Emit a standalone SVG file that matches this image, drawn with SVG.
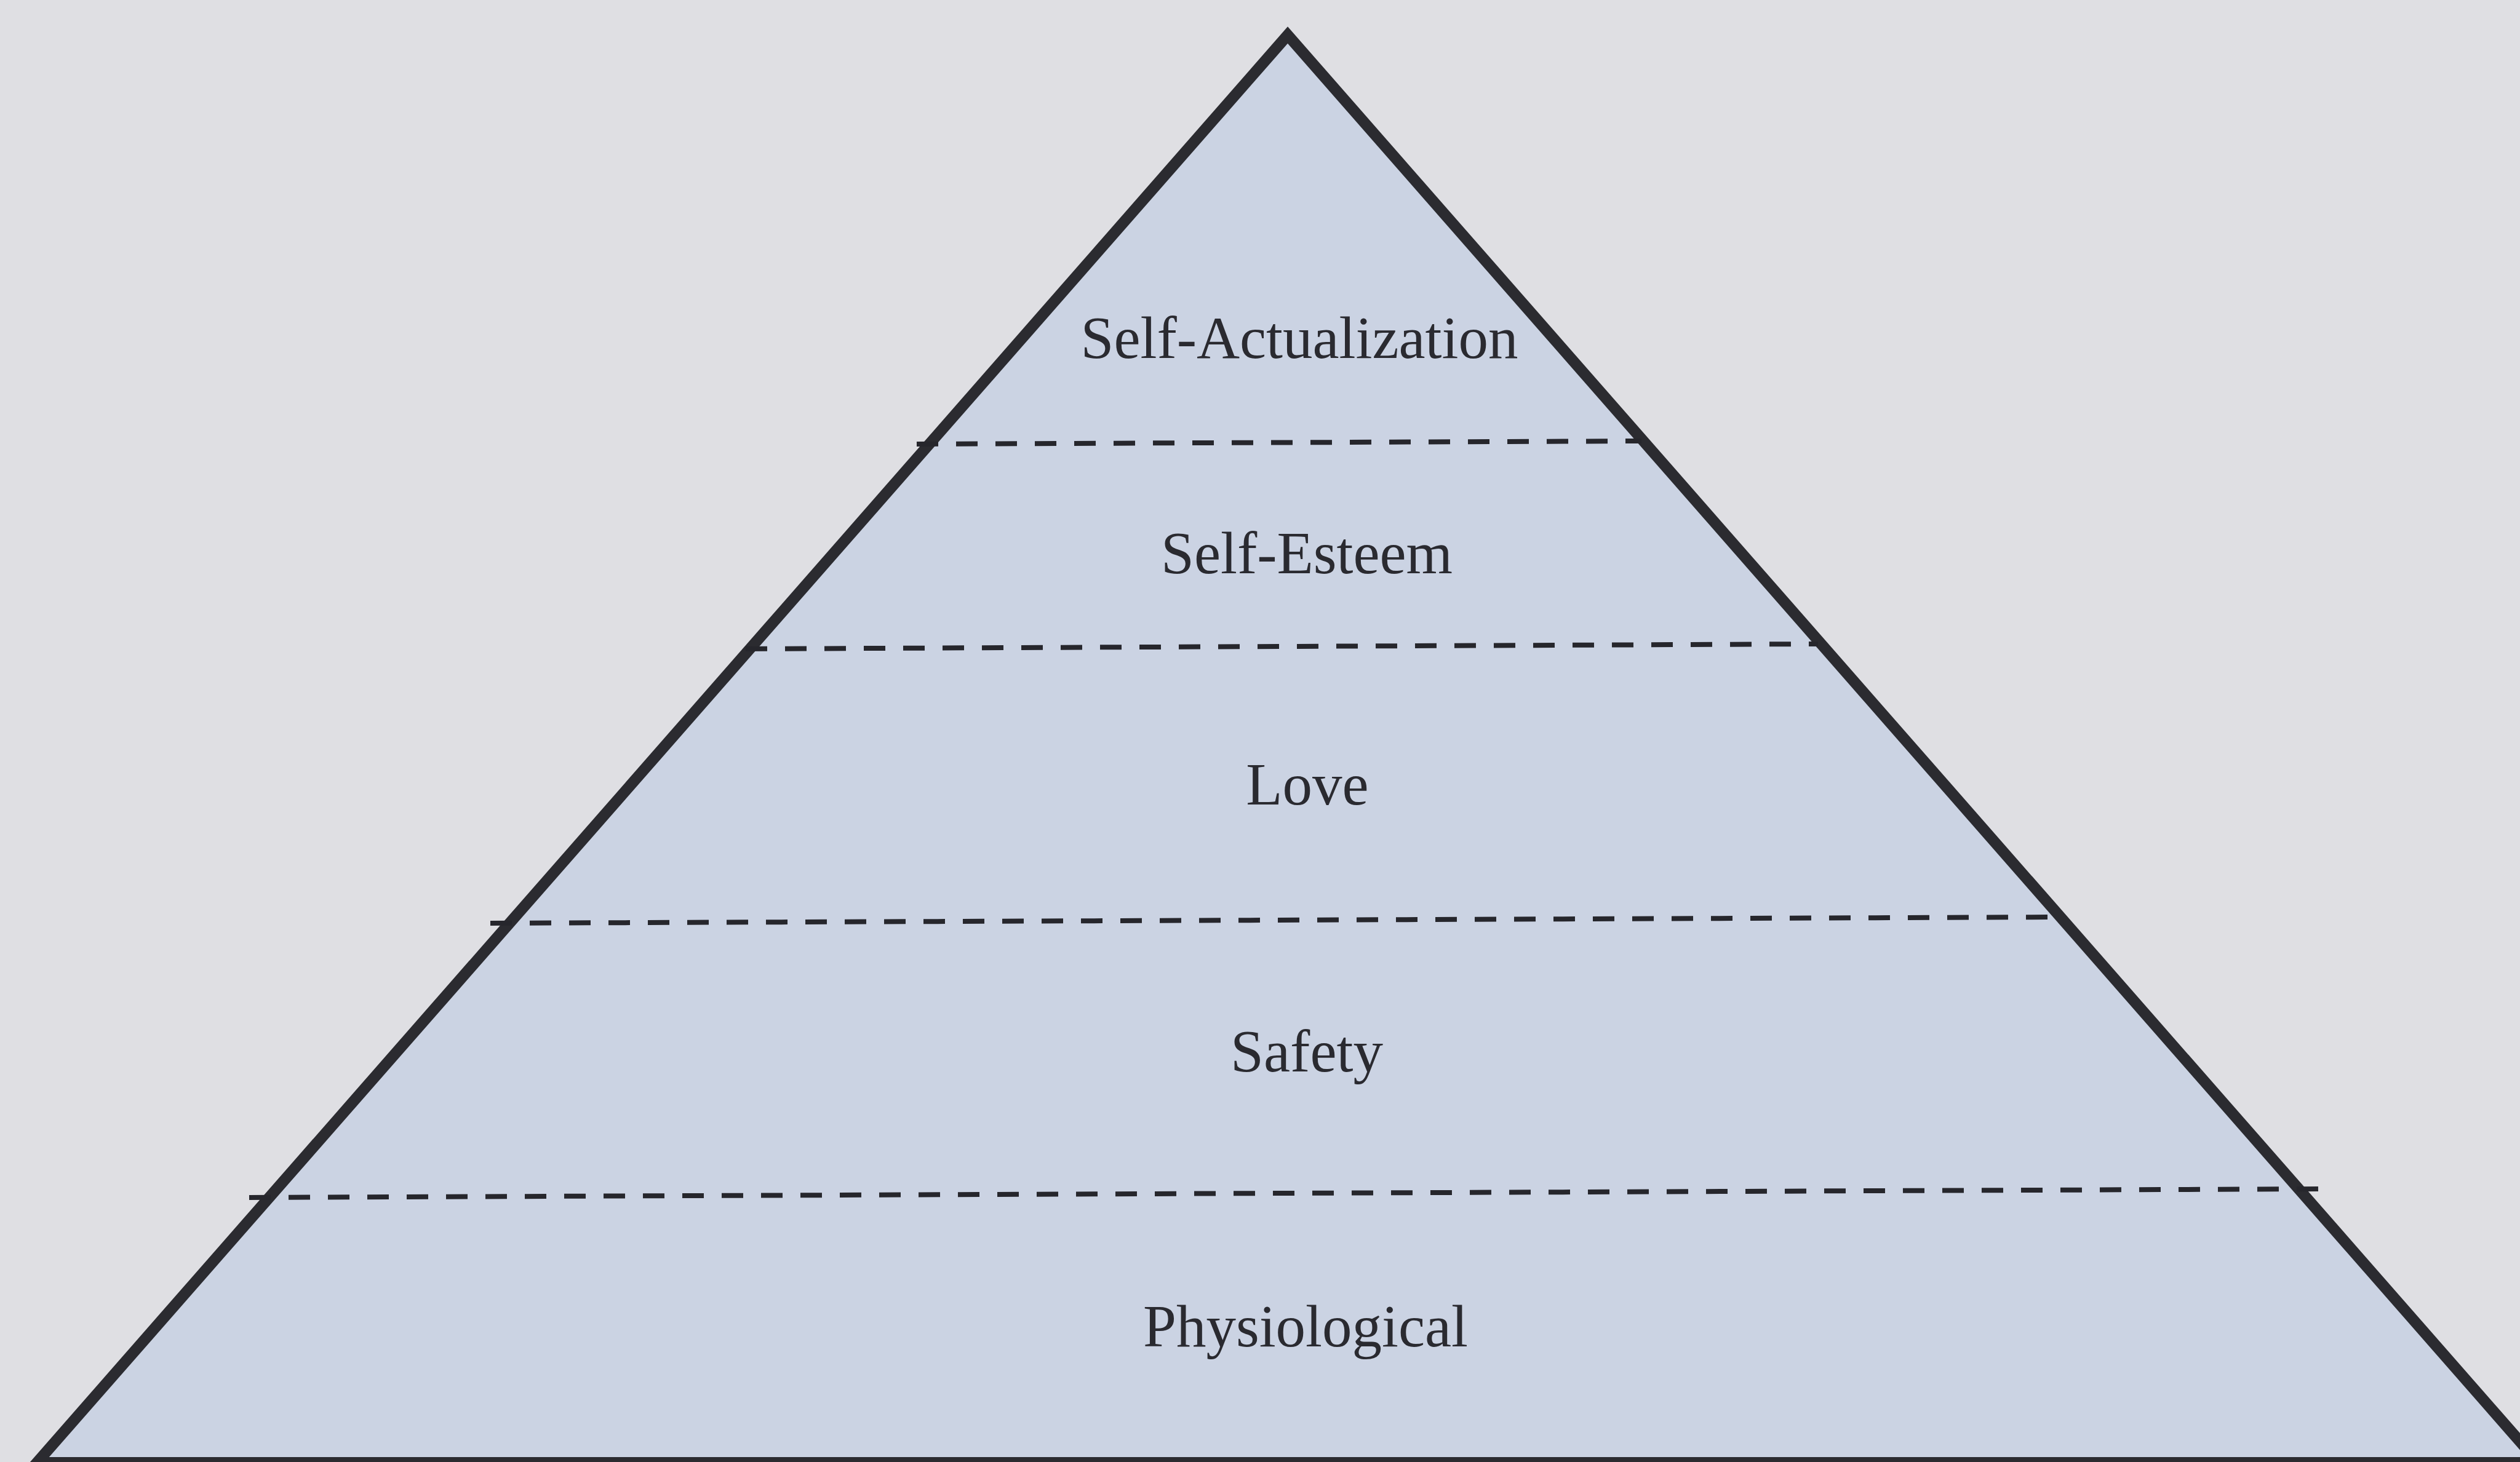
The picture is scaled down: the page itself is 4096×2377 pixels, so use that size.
<svg xmlns="http://www.w3.org/2000/svg" width="4096" height="2377" viewBox="0 0 4096 2377">
<style>
.lbl{font-family:"Liberation Serif","Times New Roman",serif;font-size:97px;fill:#2a2a30;text-anchor:middle}
.dash{stroke:#26262c;stroke-width:8;stroke-dasharray:35 29;fill:none}
</style>
<rect x="0" y="0" width="4096" height="2377" fill="#dfdfe3"/>
<g id="pyramid">
<polygon points="2093,57 60,2378 4126,2378" fill="#cbd3e3" stroke="#2b2b30" stroke-width="18" stroke-linejoin="miter"/>
</g>
<g id="connectors">
<line class="dash" x1="1490" y1="722" x2="2668" y2="717"/>
<line class="dash" x1="1212" y1="1055" x2="2955" y2="1047"/>
<line class="dash" x1="797" y1="1501" x2="3357" y2="1491"/>
<line class="dash" x1="405" y1="1947" x2="3778" y2="1933"/>
</g>
<g id="self-actualization"><text class="lbl" x="2112" y="582">Self-Actualization</text></g>
<g id="self-esteem"><text class="lbl" x="2124" y="932">Self-Esteem</text></g>
<g id="love"><text class="lbl" x="2125" y="1308">Love</text></g>
<g id="safety"><text class="lbl" x="2124" y="1742">Safety</text></g>
<g id="physiological"><text class="lbl" x="2122" y="2189">Physiological</text></g>
</svg>
